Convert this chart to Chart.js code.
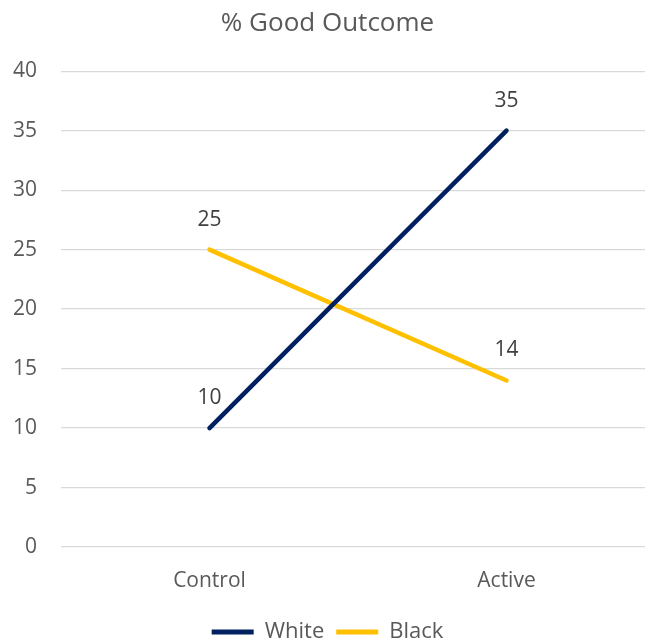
<!DOCTYPE html>
<html>
<head>
<meta charset="utf-8">
<script src="https://cdn.jsdelivr.net/npm/chart.js@4.4.1/dist/chart.umd.min.js"></script>
<style>
  html, body { margin: 0; padding: 0; background: #ffffff; overflow: hidden; }
  #wrap { width: 670px; height: 642px; }
</style>
</head>
<body>
<div id="wrap"><canvas id="chart" width="670" height="642"></canvas></div>
<script>
// Outcome rates by arm
const categories = ['Control', 'Active'];
const whiteValues = [10, 35];
const blackValues = [25, 14];
const seriesNames = ['White', 'Black'];
const yTicks = [0, 5, 10, 15, 20, 25, 30, 35, 40];

const FONT = "'Open Sans', 'Noto Sans', sans-serif";
const TEXT = '#595959';

// Writes each point's value just above it
const valueLabels = {
  id: 'valueLabels',
  afterDatasetsDraw(chart) {
    const ctx = chart.ctx;
    ctx.save();
    ctx.font = `21px ${FONT}`;
    ctx.fillStyle = '#404040';
    ctx.textAlign = 'center';
    ctx.textBaseline = 'middle';
    chart.data.datasets.forEach((ds, i) => {
      chart.getDatasetMeta(i).data.forEach((pt, j) => {
        ctx.fillText(String(ds.data[j]), pt.x, pt.y - 30);
      });
    });
    ctx.restore();
  }
};

new Chart(document.getElementById('chart'), {
  type: 'line',
  data: {
    labels: categories,
    datasets: [
      { label: seriesNames[0], data: whiteValues, borderColor: '#002060', backgroundColor: '#002060',
        borderWidth: 4.5, borderCapStyle: 'round', pointRadius: 0, tension: 0 },
      { label: seriesNames[1], data: blackValues, borderColor: '#FFC000', backgroundColor: '#FFC000',
        borderWidth: 4.5, borderCapStyle: 'round', pointRadius: 0, tension: 0 }
    ]
  },
  options: {
    responsive: false,
    animation: false,
    layout: { padding: { left: 0, right: 15, top: 0, bottom: -11 } },
    plugins: {
      title: {
        display: true, text: '% Good Outcome', color: TEXT,
        font: { family: FONT, size: 26, weight: 'normal' },
        padding: { top: 8, bottom: 32 }
      },
      legend: {
        position: 'bottom',
        labels: {
          color: TEXT, font: { family: FONT, size: 22 },
          boxWidth: 42, boxHeight: 5, padding: 12,
          generateLabels(chart) {
            return chart.data.datasets.map((ds, i) => ({
              text: ds.label, fillStyle: ds.borderColor, strokeStyle: ds.borderColor,
              lineWidth: 0, hidden: false, datasetIndex: i, fontColor: TEXT
            }));
          }
        }
      },
      tooltip: { enabled: false }
    },
    scales: {
      x: {
        offset: true,
        grid: { display: false, drawTicks: false },
        border: { display: false },
        ticks: { color: TEXT, font: { family: FONT, size: 21 }, padding: 21 },
        afterFit(scale) { scale.height = 62; }
      },
      y: {
        min: 0, max: 40,
        afterBuildTicks(scale) { scale.ticks = yTicks.map(v => ({ value: v })); },
        grid: { color: '#d9d9d9', lineWidth: 1.3, drawTicks: false },
        border: { display: false },
        ticks: { color: TEXT, font: { family: FONT, size: 21 }, padding: 24 },
        afterFit(scale) { scale.width = 61; }
      }
    }
  },
  plugins: [valueLabels]
});
</script>
</body>
</html>
